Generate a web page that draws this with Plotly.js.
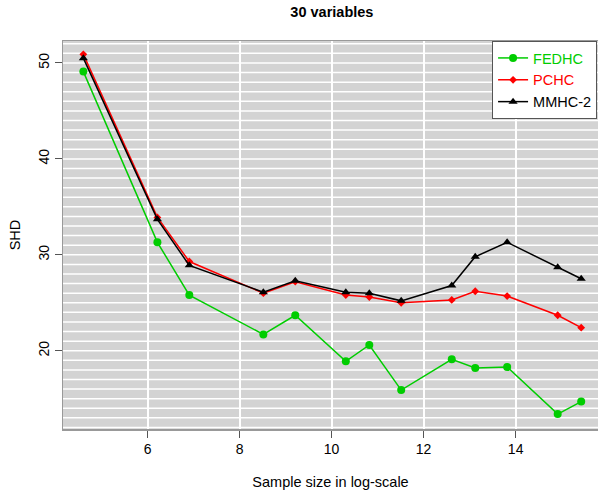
<!DOCTYPE html>
<html><head><meta charset="utf-8">
<script src="https://cdn.plot.ly/plotly-3.0.1.min.js"></script>
<style>body{margin:0;padding:0;background:#fff}#chart{width:598px;height:492px}</style>
</head><body><div id="chart"></div>
<script>
const sampleSizes = [100, 500, 1000, 5000, 10000, 30000, 50000, 100000, 300000, 500000, 1000000, 3000000, 5000000];
const logN = sampleSizes.map(n => Math.log(n));
const fedhc = [49.1, 31.3, 25.8, 21.7, 23.7, 18.9, 20.6, 15.9, 19.1, 18.2, 18.3, 13.4, 14.7];
const pchc  = [50.9, 33.9, 29.3, 26.0, 27.2, 25.8, 25.6, 25.0, 25.3, 26.2, 25.7, 23.7, 22.4];
const mmhc2 = [50.5, 33.7, 28.9, 26.1, 27.3, 26.1, 26.0, 25.2, 26.8, 29.8, 31.3, 28.7, 27.5];
const yTicks = [20, 30, 40, 50];
const xTicks = [6, 8, 10, 12, 14];
const green = '#00CD00';

const traces = [
  {x: logN, y: fedhc, name: '<span style="color:#00CD00">FEDHC</span>', mode: 'lines+markers',
   line: {color: green, width: 1.5}, marker: {symbol: 'circle', size: 8, color: green}},
  {x: logN, y: pchc, name: '<span style="color:#FF0000">PCHC</span>', mode: 'lines+markers',
   line: {color: '#FF0000', width: 1.5}, marker: {symbol: 'diamond', size: 6, color: '#FF0000'}},
  {x: logN, y: mmhc2, name: 'MMHC-2', mode: 'lines+markers',
   line: {color: '#000000', width: 1.5}, marker: {symbol: 'triangle-up', size: 8, color: '#000000'}}
];

// dense horizontal white gridlines at every integer
const shapes = [];
for (let v = 12; v <= 52; v++) {
  shapes.push({type: 'line', xref: 'paper', x0: 0, x1: 1, yref: 'y', y0: v, y1: v,
    line: {color: '#FFFFFF', width: 1.5}, layer: 'below'});
}

const layout = {
  width: 598, height: 492,
  margin: {l: 63, r: 0, t: 41, b: 63},
  paper_bgcolor: '#FFFFFF', plot_bgcolor: '#D3D3D3',
  font: {family: 'Liberation Sans, Arial, sans-serif', size: 14, color: '#000'},
  title: {text: '<b>30 variables</b>', x: 0.555, xanchor: 'center', y: 0.975, yanchor: 'middle',
    font: {size: 14.5, family: 'Liberation Sans, Arial, sans-serif'}},
  xaxis: {range: [4.163, 15.79], tickvals: xTicks, ticktext: xTicks.map(String),
    showgrid: true, gridcolor: '#FFFFFF', gridwidth: 2, zeroline: false,
    ticks: 'outside', ticklen: 7, tickcolor: '#555', tickfont: {size: 14},
    showline: true, linecolor: '#999', linewidth: 1.5, mirror: true,
    title: {text: 'Sample size in log-scale', standoff: 20, font: {size: 14.5}}},
  yaxis: {range: [11.84, 52.29], tickvals: yTicks, ticktext: yTicks.map(String),
    showgrid: false, zeroline: false, tickangle: -90,
    ticks: 'outside', ticklen: 7, tickcolor: '#555', tickfont: {size: 14},
    showline: true, linecolor: '#999', linewidth: 1.5, mirror: true,
    title: {text: 'SHD', standoff: 12, font: {size: 14.5}}},
  shapes: shapes,
  showlegend: true,
  legend: {x: 0.802, xanchor: 'left', y: 1, yanchor: 'top', bgcolor: '#FFFFFF',
    bordercolor: '#555', borderwidth: 1, font: {size: 14.5}, tracegroupgap: 0},
};

Plotly.newPlot('chart', traces, layout, {displayModeBar: false, staticPlot: true});
</script>
</body></html>
